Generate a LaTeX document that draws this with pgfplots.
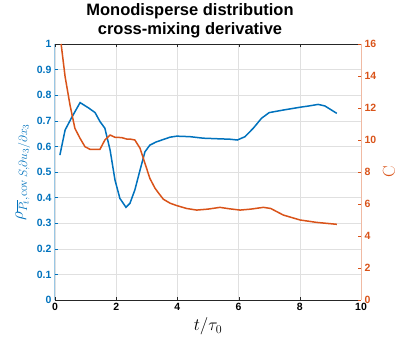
\documentclass[border=0pt]{standalone}
\usepackage{pgfplots}
\pgfplotsset{compat=1.18}
\usepackage[no-math]{fontspec}
\setmainfont{Liberation Sans}
\definecolor{mblue}{RGB}{0,114,189}
\definecolor{morange}{RGB}{217,83,25}
\definecolor{axgray}{RGB}{38,38,38}
\begin{document}
\begin{tikzpicture}
\pgfplotsset{every axis/.append style={
  width=306pt, height=256pt, scale only axis,
  xmin=0, xmax=10,
  tick label style={font=\fontsize{10.5}{12}\selectfont\bfseries},
  /pgf/number format/assume math mode=true,
  major tick length=3pt, tick align=inside,
}}
\begin{axis}[name=ax,
  axis y line*=left,
  ymin=0, ymax=1,
  ytick={0,0.1,0.2,0.3,0.4,0.5,0.6,0.7,0.8,0.9,1},
  xtick={0,2,4,6,8,10},
  grid=major,
  major grid style={color=black!12, line width=0.5pt},
  y axis line style={draw=mblue!40, line width=1pt},
  x axis line style={draw=axgray},
  xtick style={draw=axgray},
  ytick style={draw=mblue},
  yticklabel style={color=mblue, /pgf/number format/fixed, /pgf/number format/precision=1},
  xticklabel style={color=black},
  xlabel={$t/\tau_0$},
  xlabel style={font=\fontsize{18}{20}\selectfont},
  ylabel={$\rho_{\overline{P_t},\mathrm{cov}\,S,\partial u_3/\partial x_3}$},
  ylabel style={font=\fontsize{18.5}{20}\selectfont, color=mblue},
]
\addplot[color=mblue, line width=1.5pt] coordinates {
(0.16,0.566)(0.33,0.664)(0.55,0.714)(0.82,0.771)(1.1,0.750)(1.31,0.732)(1.47,0.697)(1.63,0.671)
(1.80,0.586)(1.96,0.469)(2.12,0.397)(2.32,0.362)(2.45,0.378)(2.61,0.430)(2.78,0.508)(2.94,0.579)
(3.10,0.605)(3.30,0.617)(3.54,0.627)(3.76,0.636)(3.98,0.640)(4.41,0.638)(4.85,0.632)(5.28,0.630)
(5.72,0.628)(5.96,0.625)(6.21,0.638)(6.48,0.671)(6.75,0.710)(7.00,0.732)(7.46,0.742)(8.01,0.753)
(8.30,0.758)(8.60,0.764)(8.82,0.758)(9.21,0.729)
};
\end{axis}
\begin{axis}[
  axis y line*=right, axis x line=none,
  ymin=0, ymax=16,
  ytick={0,2,4,6,8,10,12,14,16},
  y axis line style={draw=morange!40, line width=1pt},
  ytick style={draw=morange},
  yticklabel style={color=morange},
  ylabel={$\mathrm{C}$},
  ylabel style={font=\fontsize{17}{19}\selectfont, color=morange},
]
\addplot[color=morange, line width=1.5pt] coordinates {
(0.20,16.0)(0.33,13.96)(0.49,12.19)(0.65,10.73)(0.82,10.10)(0.98,9.58)(1.14,9.42)(1.47,9.42)
(1.63,10.00)(1.80,10.31)(1.96,10.17)(2.18,10.15)(2.34,10.06)(2.45,10.06)(2.61,10.00)(2.78,9.48)
(2.94,8.54)(3.10,7.60)(3.27,6.98)(3.41,6.62)(3.54,6.30)(3.76,6.05)(3.98,5.90)(4.30,5.72)
(4.63,5.62)(5.00,5.68)(5.39,5.79)(5.70,5.70)(6.05,5.62)(6.40,5.68)(6.81,5.79)(7.05,5.72)
(7.46,5.31)(8.01,5.00)(8.55,4.85)(9.21,4.73)
};
\end{axis}
\node[align=center, inner sep=0pt, anchor=south, font=\fontsize{16.5}{19}\selectfont\bfseries]
  at ([xshift=-18pt,yshift=5.5pt]ax.north) {Monodisperse distribution\\cross-mixing derivative};
\pgfresetboundingbox
\path ([xshift=-55pt,yshift=-39pt]ax.south west) rectangle ([xshift=46pt,yshift=44pt]ax.north east);
\end{tikzpicture}
\end{document}
